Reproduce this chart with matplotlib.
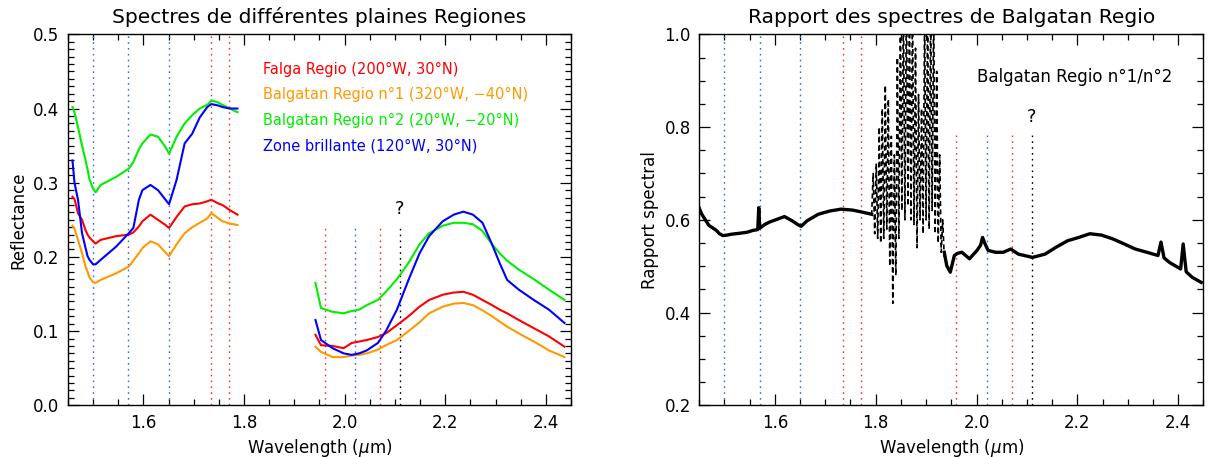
import numpy as np
import matplotlib
matplotlib.use('Agg')
import matplotlib.pyplot as plt
from matplotlib.ticker import MultipleLocator

# ---- left panel: reflectance spectra (two spectral windows) ----
wl_a = [1.459, 1.463, 1.470, 1.478, 1.485, 1.489, 1.493, 1.500, 1.505, 1.515,
        1.546, 1.571, 1.580, 1.591, 1.598, 1.614, 1.629, 1.644, 1.651, 1.666,
        1.682, 1.697, 1.712, 1.727, 1.735, 1.749, 1.757, 1.772, 1.787]
falga_a = [0.281, 0.278, 0.259, 0.250, 0.236, 0.230, 0.226, 0.221, 0.218, 0.223,
           0.228, 0.230, 0.233, 0.241, 0.248, 0.257, 0.250, 0.243, 0.239, 0.254,
           0.268, 0.271, 0.272, 0.275, 0.277, 0.272, 0.270, 0.263, 0.257]
balg1_a = [0.242, 0.238, 0.223, 0.205, 0.187, 0.180, 0.172, 0.166, 0.165, 0.169,
           0.178, 0.187, 0.195, 0.205, 0.212, 0.221, 0.217, 0.206, 0.201, 0.217,
           0.232, 0.240, 0.246, 0.252, 0.259, 0.252, 0.248, 0.245, 0.243]
balg2_a = [0.402, 0.395, 0.375, 0.350, 0.330, 0.318, 0.304, 0.292, 0.287, 0.297,
           0.308, 0.319, 0.328, 0.345, 0.353, 0.365, 0.362, 0.348, 0.339, 0.362,
           0.380, 0.391, 0.400, 0.405, 0.411, 0.408, 0.405, 0.400, 0.395]
zone_a = [0.330, 0.300, 0.277, 0.232, 0.212, 0.201, 0.196, 0.190, 0.190, 0.196,
          0.214, 0.232, 0.239, 0.277, 0.290, 0.297, 0.290, 0.277, 0.271, 0.304,
          0.353, 0.366, 0.388, 0.402, 0.406, 0.404, 0.402, 0.400, 0.400]

wl_b = [1.942, 1.953, 1.976, 1.998, 2.014, 2.029, 2.044, 2.066, 2.082, 2.104,
        2.127, 2.149, 2.168, 2.195, 2.217, 2.236, 2.255, 2.274, 2.293, 2.308,
        2.323, 2.346, 2.376, 2.406, 2.437]
falga_b = [0.095, 0.081, 0.080, 0.077, 0.084, 0.086, 0.088, 0.092, 0.097, 0.108,
           0.120, 0.133, 0.142, 0.149, 0.152, 0.153, 0.149, 0.142, 0.135, 0.129,
           0.124, 0.115, 0.104, 0.093, 0.079]
balg1_b = [0.079, 0.072, 0.065, 0.065, 0.067, 0.068, 0.070, 0.075, 0.081, 0.088,
           0.100, 0.112, 0.124, 0.133, 0.137, 0.138, 0.135, 0.128, 0.120, 0.113,
           0.106, 0.097, 0.086, 0.074, 0.065]
balg2_b = [0.165, 0.131, 0.126, 0.124, 0.127, 0.129, 0.135, 0.142, 0.153, 0.170,
           0.192, 0.217, 0.232, 0.242, 0.246, 0.246, 0.244, 0.235, 0.217, 0.205,
           0.195, 0.183, 0.170, 0.156, 0.142]
zone_b = [0.115, 0.088, 0.077, 0.070, 0.068, 0.070, 0.074, 0.084, 0.100, 0.129,
          0.169, 0.205, 0.228, 0.248, 0.257, 0.261, 0.257, 0.246, 0.217, 0.192,
          0.169, 0.156, 0.142, 0.129, 0.111]

series_names = ['Falga Regio (200°W, 30°N)',
                'Balgatan Regio n°1 (320°W, \u221240°N)',
                'Balgatan Regio n°2 (20°W, \u221220°N)',
                'Zone brillante (120°W, 30°N)']
series_colors = ['#ff0000', '#ff9900', '#00ee00', '#0000ff']

# ---- right panel: spectral ratio n°1 / n°2 ----
ratio_wl_a = [1.448, 1.455, 1.462, 1.469, 1.476, 1.484, 1.490, 1.497, 1.505, 1.514,
              1.530, 1.544, 1.556, 1.566, 1.568, 1.570, 1.580, 1.589, 1.604, 1.619,
              1.634, 1.645, 1.652, 1.664, 1.686, 1.709, 1.731, 1.754, 1.776, 1.792]
ratio_a = [0.630, 0.612, 0.600, 0.588, 0.583, 0.577, 0.570, 0.566, 0.567, 0.569,
           0.571, 0.573, 0.577, 0.579, 0.626, 0.582, 0.590, 0.595, 0.601, 0.607,
           0.598, 0.590, 0.586, 0.598, 0.612, 0.619, 0.623, 0.621, 0.616, 0.612]
ratio_wl_n = [1.792, 1.795, 1.798, 1.801, 1.804, 1.807, 1.810, 1.813, 1.816, 1.819,
              1.822, 1.825, 1.828, 1.831, 1.834, 1.837, 1.840, 1.843, 1.846, 1.849,
              1.852, 1.855, 1.858, 1.861, 1.864, 1.867, 1.870, 1.873, 1.876, 1.879,
              1.882, 1.885, 1.888, 1.891, 1.894, 1.897, 1.900, 1.903, 1.906, 1.909,
              1.912, 1.915, 1.918, 1.921, 1.924, 1.927, 1.930, 1.933, 1.936]
ratio_n = [0.61, 0.70, 0.57, 0.72, 0.56, 0.80, 0.55, 0.84, 0.56, 0.89,
           0.58, 0.86, 0.50, 0.78, 0.42, 0.74, 0.48, 0.95, 0.56, 1.05,
           0.62, 1.08, 0.60, 1.10, 0.63, 1.06, 0.60, 1.08, 0.59, 0.97,
           0.54, 0.87, 0.60, 0.84, 0.57, 1.04, 0.60, 1.07, 0.58, 1.05,
           0.62, 1.06, 0.57, 0.92, 0.55, 0.74, 0.53, 0.60, 0.52]
ratio_wl_b = [1.936, 1.941, 1.948, 1.956, 1.963, 1.971, 1.986, 2.001, 2.008, 2.012,
              2.017, 2.023, 2.038, 2.053, 2.068, 2.083, 2.111, 2.136, 2.158, 2.181,
              2.203, 2.225, 2.248, 2.270, 2.293, 2.315, 2.338, 2.360, 2.366, 2.372,
              2.383, 2.405, 2.410, 2.416, 2.428, 2.446]
ratio_b = [0.530, 0.501, 0.487, 0.523, 0.528, 0.530, 0.516, 0.534, 0.545, 0.562,
           0.548, 0.534, 0.530, 0.530, 0.537, 0.526, 0.519, 0.526, 0.541, 0.555,
           0.562, 0.570, 0.567, 0.559, 0.548, 0.537, 0.530, 0.523, 0.552, 0.518,
           0.508, 0.494, 0.548, 0.488, 0.476, 0.465]

# absorption positions marked on both panels
band_blue = [1.50, 1.57, 1.65]
band_red = [1.735, 1.77]
band2_wl = [1.96, 2.02, 2.07, 2.11]
band2_col = ['#ff3030', '#3366ff', '#ff3030', '#000000']

plt.rcParams['font.family'] = 'DejaVu Sans'
fig = plt.figure(figsize=(12.09, 4.57), dpi=100)
ax1 = fig.add_axes([0.0562, 0.1131, 0.4161, 0.8118])
ax2 = fig.add_axes([0.5784, 0.1131, 0.4169, 0.8118])

dot = (0, (1.2, 3.0))


def style_axes(ax, ymaj, ymin):
    ax.set_xlim(1.45, 2.45)
    ax.xaxis.set_major_locator(MultipleLocator(0.2))
    ax.xaxis.set_minor_locator(MultipleLocator(0.05))
    ax.yaxis.set_major_locator(MultipleLocator(ymaj))
    ax.yaxis.set_minor_locator(MultipleLocator(ymin))
    ax.tick_params(which='both', direction='in', top=True, right=True,
                   labelsize=12, width=0.9, pad=6)
    ax.tick_params(which='major', length=8)
    ax.tick_params(which='minor', length=4)
    for s in ax.spines.values():
        s.set_linewidth(1.0)
    ax.set_xlabel('Wavelength ($\\mu$m)', fontsize=12)


# left panel
for x in band_blue:
    ax1.axvline(x, color='#3366ff', lw=1.0, ls=dot)
for x in band_red:
    ax1.axvline(x, color='#ff3030', lw=1.0, ls=dot)
for x, c in zip(band2_wl, band2_col):
    ax1.plot([x, x], [0, 0.24], color=c, lw=1.0, ls=dot)
ax1.text(2.11, 0.265, '?', ha='center', va='center', fontsize=13)

for ya, yb, c in zip([falga_a, balg1_a, balg2_a, zone_a],
                     [falga_b, balg1_b, balg2_b, zone_b], series_colors):
    ax1.plot(wl_a, ya, color=c, lw=1.5)
    ax1.plot(wl_b, yb, color=c, lw=1.5)

for i, (name, c) in enumerate(zip(series_names, series_colors)):
    ax1.text(1.838, 0.453 - i * 0.0345, name, color=c, fontsize=10.5,
             va='center', ha='left')

ax1.set_ylim(0, 0.5)
style_axes(ax1, 0.1, 0.01)
ax1.set_ylabel('Reflectance', fontsize=12)
ax1.set_title('Spectres de différentes plaines Regiones', fontsize=14.6, pad=8)

# right panel
for x in band_blue:
    ax2.axvline(x, color='#3366ff', lw=1.0, ls=dot)
for x in band_red:
    ax2.axvline(x, color='#ff3030', lw=1.0, ls=dot)
for x, c in zip(band2_wl, band2_col):
    ax2.plot([x, x], [0.2, 0.79], color=c, lw=1.0, ls=dot)
ax2.text(2.11, 0.822, '?', ha='center', va='center', fontsize=13)

ax2.plot(ratio_wl_a, ratio_a, color='black', lw=2.4)
ax2.plot(ratio_wl_n, ratio_n, color='black', lw=1.2, ls=(0, (3, 2)))
ax2.plot(ratio_wl_b, ratio_b, color='black', lw=2.4)
ax2.text(2.0, 0.908, 'Balgatan Regio n°1/n°2', fontsize=12, va='center', ha='left')

ax2.set_ylim(0.2, 1.0)
style_axes(ax2, 0.2, 0.05)
ax2.set_ylabel('Rapport spectral', fontsize=12)
ax2.set_title('Rapport des spectres de Balgatan Regio', fontsize=14.6, pad=8)

fig.savefig('out.png', dpi=100)
